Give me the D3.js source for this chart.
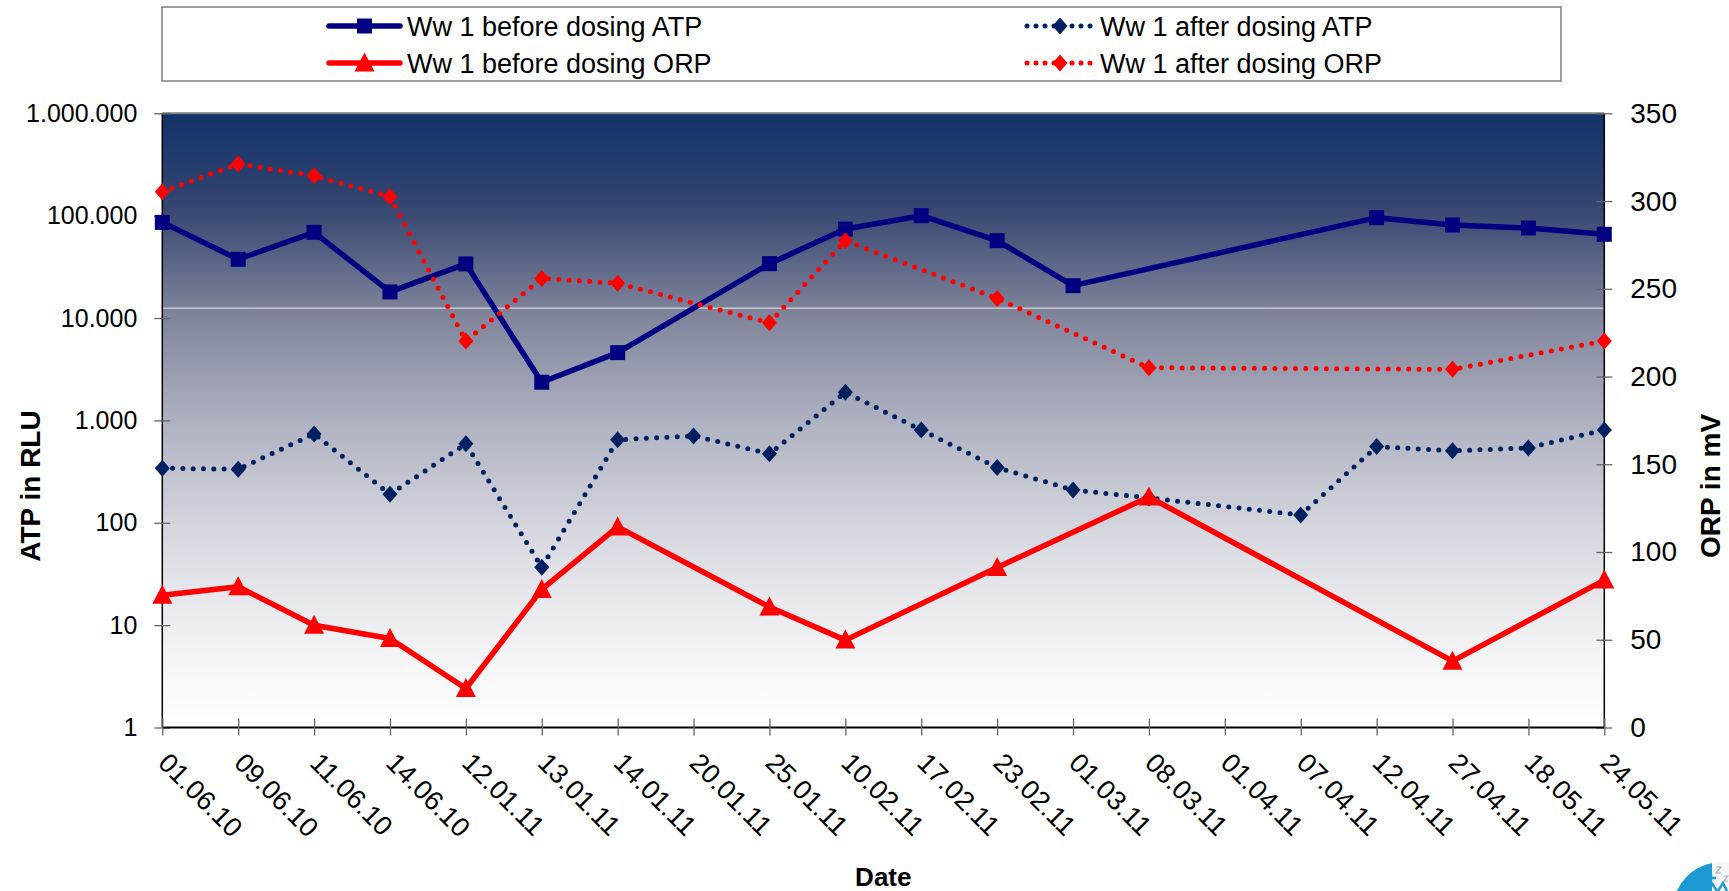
<!DOCTYPE html>
<html><head><meta charset="utf-8">
<script src="https://cdn.jsdelivr.net/npm/d3@7"></script>
<style>
body{margin:0;background:#fff;}
svg{display:block;font-family:"Liberation Sans",Arial,sans-serif;}
</style>
</head><body>
<svg id="chart" width="1729" height="891"></svg>
<script>
// ---------- data ----------
const dates = ["01.06.10","09.06.10","11.06.10","14.06.10","12.01.11","13.01.11","14.01.11","20.01.11","25.01.11","10.02.11","17.02.11","23.02.11","01.03.11","08.03.11","01.04.11","07.04.11","12.04.11","27.04.11","18.05.11","24.05.11"];
const atpBefore = [86000, 37500, 68800, 18000, 33800, 2360, 4590, null, 34000, 74000, 100000, 57000, 20700, null, null, null, 95600, 81100, 75800, 65800];
const atpAfter  = [341, 333, 738, 190, 590, 36.8, 646, 706, 471, 1884, 807, 346, 209, 175, null, 119, 555, 504, 539, 807];
const orpBefore = [75.4, 80.2, 58.3, 50.7, 22.2, 78.7, 114.3, null, 68.7, 49.8, null, 91.2, null, 131.4, null, null, null, 37.8, null, 84.0];
const orpAfter  = [305.3, 321.1, 314.4, 302.5, 220.2, 255.9, 253.1, null, 230.6, 277.4, null, 244.5, null, 205.0, null, null, null, 204.1, null, 220.2];
const leftTicks = [1, 10, 100, 1000, 10000, 100000, 1000000];
const leftTickLabels = ["1", "10", "100", "1.000", "10.000", "100.000", "1.000.000"];
const rightTicks = [0, 50, 100, 150, 200, 250, 300, 350];
const seriesNames = ["Ww 1 before dosing ATP", "Ww 1 after dosing ATP", "Ww 1 before dosing ORP", "Ww 1 after dosing ORP"];
const bandValue = 239; // faint band line in the background gradient (mV)

// ---------- layout ----------
const L = 162.3, R = 1604.3, T = 113.3, B = 727.5;
const svg = d3.select("#chart");

const x = d3.scalePoint().domain(dates).range([L, R]);
const yL = d3.scaleLog().domain([1, 1e6]).range([B, T]);
const yR = d3.scaleLinear().domain([0, 350]).range([B, T]);

// background gradient
const defs = svg.append("defs");
const grad = defs.append("linearGradient").attr("id", "bg").attr("x1", 0).attr("y1", 0).attr("x2", 0).attr("y2", 1);
[[0, "#12336a"], [0.15, "#344570"], [0.32, "#7d8299"], [0.5, "#aeb1c0"], [0.7, "#dadbe2"], [0.88, "#f4f4f6"], [1, "#ffffff"]]
  .forEach(([o, c]) => grad.append("stop").attr("offset", o).attr("stop-color", c));

svg.append("rect").attr("x", L).attr("y", T).attr("width", R - L).attr("height", B - T).attr("fill", "url(#bg)");
svg.append("line").attr("x1", L).attr("x2", R).attr("y1", yR(bandValue)).attr("y2", yR(bandValue))
  .attr("stroke", "#d4d6de").attr("stroke-width", 1.3);
// top border
svg.append("line").attr("x1", L).attr("x2", R).attr("y1", T).attr("y2", T).attr("stroke", "#7f7f7f").attr("stroke-width", 2);

// ---------- axes ----------
const gL = svg.append("g").attr("transform", `translate(${L},0)`)
  .call(d3.axisLeft(yL).tickValues(leftTicks).tickFormat((d, i) => leftTickLabels[i]).tickSize(8).tickPadding(17));
gL.selectAll(".tick line").attr("x1", 8).attr("stroke", "#666").attr("stroke-width", 1.3);
gL.selectAll(".tick text").attr("font-size", 25).attr("fill", "#000").attr("font-family", "Liberation Sans, Arial, sans-serif");
gL.select(".domain").attr("stroke", "#000").attr("stroke-width", 1.5).attr("d", `M0,${T}V${B}`);

const gR = svg.append("g").attr("transform", `translate(${R},0)`)
  .call(d3.axisRight(yR).tickValues(rightTicks).tickSize(8).tickPadding(18));
gR.selectAll(".tick line").attr("x1", -8).attr("stroke", "#666").attr("stroke-width", 1.3);
gR.selectAll(".tick text").attr("font-size", 28).attr("fill", "#000").attr("font-family", "Liberation Sans, Arial, sans-serif");
gR.select(".domain").attr("stroke", "#000").attr("stroke-width", 1.5).attr("d", `M0,${T}V${B}`);

const gB = svg.append("g").attr("transform", `translate(0,${B})`)
  .call(d3.axisBottom(x).tickSize(8).tickFormat(""));
gB.selectAll(".tick line").attr("y1", -9).attr("stroke", "#666").attr("stroke-width", 1.3);
gB.select(".domain").attr("stroke", "#000").attr("stroke-width", 2).attr("d", `M${L},0H${R}`);
gB.selectAll(".tick").append("text")
  .attr("transform", "translate(-6,37) rotate(45)")
  .attr("text-anchor", "start").attr("font-size", 27).attr("fill", "#000")
  .attr("font-family", "Liberation Sans, Arial, sans-serif")
  .text(d => d);

// axis titles
svg.append("text").attr("transform", `translate(40,486) rotate(-90)`).attr("text-anchor", "middle")
  .attr("font-size", 28).attr("font-weight", "bold").text("ATP in RLU");
svg.append("text").attr("transform", `translate(1720,486) rotate(-90)`).attr("text-anchor", "middle")
  .attr("font-size", 28).attr("font-weight", "bold").text("ORP in mV");
svg.append("text").attr("x", (L + R) / 2).attr("y", 877).attr("dy", "0.35em").attr("text-anchor", "middle")
  .attr("font-size", 26).attr("font-weight", "bold").text("Date");

// ---------- markers ----------
const squarePath = "M-7.5,-7.5H7.5V7.5H-7.5Z";
const diamondPath = "M0,-8.5L7.5,0L0,8.5L-7.5,0Z";
const trianglePath = "M0,-10.5L10,8.5H-10Z";

const series = [
  {name: seriesNames[0], vals: atpBefore, y: yL, color: "#000080", width: 5.5, dash: null, marker: squarePath},
  {name: seriesNames[1], vals: atpAfter, y: yL, color: "#002060", width: 5, dash: "0 10.3", marker: diamondPath},
  {name: seriesNames[2], vals: orpBefore, y: yR, color: "#ff0000", width: 5.5, dash: null, marker: trianglePath},
  {name: seriesNames[3], vals: orpAfter, y: yR, color: "#ff0000", width: 5, dash: "0 10.3", marker: diamondPath}
];

series.forEach(s => {
  const pts = dates.map((d, i) => ({d, v: s.vals[i]})).filter(p => p.v != null);
  const line = d3.line().x(p => x(p.d)).y(p => s.y(p.v));
  const path = svg.append("path").datum(pts).attr("d", line).attr("fill", "none")
    .attr("stroke", s.color).attr("stroke-width", s.width).attr("stroke-linejoin", "round");
  if (s.dash) path.attr("stroke-dasharray", s.dash).attr("stroke-linecap", "round");
  svg.append("g").selectAll("path").data(pts).join("path")
    .attr("d", s.marker).attr("transform", p => `translate(${x(p.d)},${s.y(p.v)})`).attr("fill", s.color);
});

// ---------- legend ----------
const lg = svg.append("g");
lg.append("rect").attr("x", 162).attr("y", 7).attr("width", 1399).attr("height", 74)
  .attr("fill", "#fff").attr("stroke", "#7f7f7f").attr("stroke-width", 1.5);
const legendPos = [[329, 26], [1027, 26], [329, 63], [1027, 63]];
series.forEach((s, i) => {
  const [lx, ly] = legendPos[i];
  const w = i % 2 === 0 ? 71 : 66;
  const l = lg.append("line").attr("x1", lx).attr("x2", lx + w).attr("y1", ly).attr("y2", ly)
    .attr("stroke", s.color).attr("stroke-width", s.width);
  if (s.dash) l.attr("stroke-dasharray", "0 9").attr("stroke-linecap", "round");
  else l.attr("stroke-linecap", "round");
  lg.append("path").attr("d", s.marker).attr("transform", `translate(${lx + w / 2},${ly})`).attr("fill", s.color);
  lg.append("text").attr("x", lx + w + 7).attr("y", ly).attr("dy", "0.36em")
    .attr("font-size", 27).attr("fill", "#000").text(s.name);
});

// ---------- logo (partially visible in corner) ----------
const logo = svg.append("g");
defs.append("clipPath").attr("id", "logoClip").append("circle").attr("cx", 1722).attr("cy", 912).attr("r", 50);
const lc = logo.append("g").attr("clip-path", "url(#logoClip)");
lc.append("rect").attr("x", 1660).attr("y", 850).attr("width", 80).attr("height", 50).attr("fill", "#f4f6f8");
lc.append("rect").attr("x", 1660).attr("y", 850).attr("width", 52).attr("height", 50).attr("fill", "#1b9ad2");
lc.append("path").attr("d", "M1705,891 l6,-9 l6,9 M1711,882 v-8 M1706,878 h10 M1718,891 l5,-8 l4,8")
  .attr("stroke", "#1b9ad2").attr("stroke-width", 2.5).attr("fill", "none");
lc.append("path").attr("d", "M1716,867 h5 l-5,6 h5 M1724,876 h4 l-4,5 h4")
  .attr("stroke", "#aab0b8").attr("stroke-width", 1.2).attr("fill", "none");
</script>
</body></html>
